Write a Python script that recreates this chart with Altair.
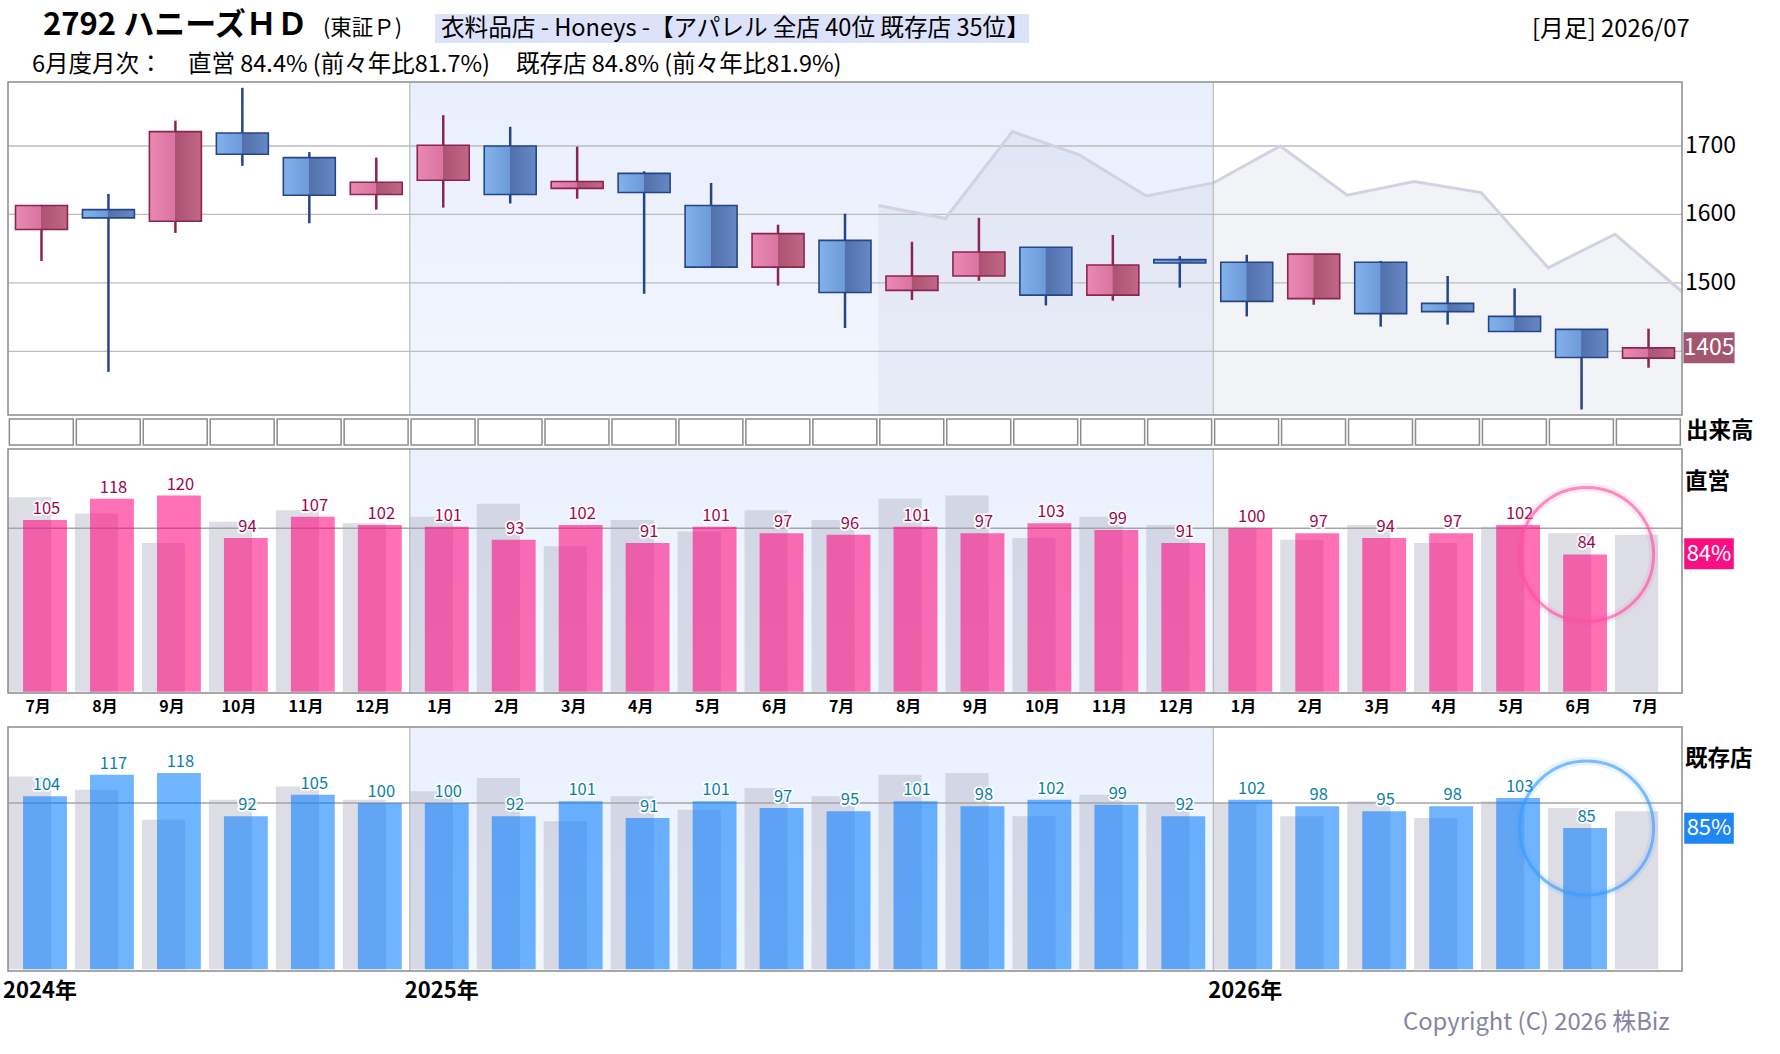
import altair as alt
import pandas as pd

FONT = "Noto Sans CJK JP"

# ---------------- data ----------------
months = ["7月", "8月", "9月", "10月", "11月", "12月",
          "1月", "2月", "3月", "4月", "5月", "6月", "7月", "8月", "9月", "10月", "11月", "12月",
          "1月", "2月", "3月", "4月", "5月", "6月", "7月"]
years = ["2024年", "2025年", "2026年"]
year_start = [0, 6, 18]

candle_open = [1578, 1607, 1590, 1719, 1683, 1629, 1650, 1700, 1638, 1660, 1613, 1523, 1562,
               1489, 1510, 1552, 1482, 1534, 1530, 1477, 1530, 1470, 1451, 1432, 1390]
candle_high = [1614, 1630, 1737, 1785, 1691, 1683, 1745, 1728, 1699, 1663, 1646, 1585, 1601,
               1560, 1595, 1552, 1570, 1539, 1541, 1542, 1532, 1510, 1492, 1432, 1433]
candle_low = [1532, 1370, 1573, 1671, 1587, 1607, 1610, 1616, 1623, 1484, 1523, 1496, 1434,
              1475, 1503, 1467, 1474, 1493, 1451, 1468, 1436, 1439, 1429, 1315, 1376]
candle_close = [1613, 1595, 1721, 1688, 1628, 1647, 1701, 1629, 1648, 1632, 1523, 1572, 1486,
                1510, 1545, 1482, 1526, 1529, 1473, 1542, 1455, 1458, 1429, 1391, 1405]

compare_start = 13
compare_line = [1613, 1594, 1721, 1687, 1627, 1646, 1700, 1628, 1648, 1632, 1522, 1571, 1487]

price_ticks = [1400, 1500, 1600, 1700]
price_labels = ["1500", "1600", "1700"]
last_price = 1405

direct = [105, 118, 120, 94, 107, 102, 101, 93, 102, 91, 101, 97, 96, 101, 97, 103, 99, 91,
          100, 97, 94, 97, 102, 84]
direct_prev = [119, 109, 91, 104, 111, 103, 107, 115, 89, 105, 98, 111, 105, 118, 120, 94, 107,
               102, 101, 93, 102, 91, 101, 97, 96]
existing = [104, 117, 118, 92, 105, 100, 100, 92, 101, 91, 101, 97, 95, 101, 98, 102, 99, 92,
            102, 98, 95, 98, 103, 85]
existing_prev = [116, 108, 90, 102, 110, 102, 107, 115, 89, 104, 96, 109, 104, 117, 118, 92, 105,
                 100, 100, 92, 101, 91, 101, 97, 95]
direct_latest = 84.4
existing_latest = 84.8

# ---------------- scales ----------------
N = len(months)
XS = alt.Scale(domain=[0, N], range=[8, 1682], nice=False, zero=False)
TOP = alt.Scale(domain=[1306.9, 1793.5], range=[415, 82], nice=False, zero=False)
MID = alt.Scale(domain=[-0.8, 148.5], range=[693, 449], nice=False, zero=False)
BOT = alt.Scale(domain=[-1.0, 145.7], range=[971, 727], nice=False, zero=False)


def X(f):
    return alt.X(f, type="quantitative", scale=XS, axis=None)


def Y(f, s):
    return alt.Y(f, type="quantitative", scale=s, axis=None)


def XD(v):
    return alt.XDatum(v, type="quantitative", scale=XS, axis=None)


def YD(v, s):
    return alt.YDatum(v, type="quantitative", scale=s, axis=None)


def hgrad(stops):
    return alt.Gradient(gradient="linear", x1=0, x2=1, y1=0, y2=0,
                        stops=[alt.GradientStop(offset=o, color=c) for o, c in stops])


def vgrad(stops):
    return alt.Gradient(gradient="linear", x1=0, x2=0, y1=0, y2=1,
                        stops=[alt.GradientStop(offset=o, color=c) for o, c in stops])


one = pd.DataFrame({"k": [0]})


def label(txt, x, y, size=22, weight="normal", color="black", align="left"):
    return alt.Chart(one).mark_text(text=txt, fontSize=size, fontWeight=weight, color=color,
                                    align=align, baseline="middle", font=FONT).encode(
        x=alt.value(x), y=alt.value(y))


layers = []

# ---------------- header ----------------
layers.append(alt.Chart(one).mark_rect(fill="#DCE2FA").encode(
    x=alt.value(435), x2=alt.value(1029), y=alt.value(14), y2=alt.value(43)))
layers.append(label("2792 ハニーズＨＤ", 43, 26, size=31, weight="bold"))
layers.append(label("(東証Ｐ)", 323, 29, size=21.5))
layers.append(label("衣料品店 - Honeys -【アパレル 全店 40位 既存店 35位】", 441, 29, size=23.6))
layers.append(label("[月足] 2026/07", 1532, 30, size=23.8))
layers.append(label("6月度月次：", 32, 65, size=23.5))
layers.append(label("直営 84.4% (前々年比81.7%)", 188, 65, size=23.5))
layers.append(label("既存店 84.8% (前々年比81.9%)", 516, 65, size=23.5))

# ---------------- top panel ----------------
yr_df = pd.DataFrame({"x0": [year_start[1]], "x1": [year_start[2]]})
bounds_df = pd.DataFrame({"b": year_start[1:]})

layers.append(alt.Chart(yr_df).mark_rect(
    fill=vgrad([(0, "#E9EFFC"), (1, "#F2F6FE")])).encode(
    x=X("x0"), x2="x1", y=YD(TOP.domain[0], TOP), y2=alt.Y2Datum(TOP.domain[1])))

cmp_df = pd.DataFrame({"b": [compare_start + k for k in range(len(compare_line))], "v": compare_line})
layers.append(alt.Chart(cmp_df).mark_area(color="#B8BCD2", opacity=0.18).encode(
    x=X("b"), y=Y("v", TOP), y2=alt.Y2Datum(TOP.domain[0])))

grid_df = pd.DataFrame({"g": price_ticks})
layers.append(alt.Chart(grid_df).mark_rule(color="#BDBDBD", strokeWidth=1.3).encode(
    y=Y("g", TOP), x=XD(0), x2=alt.X2Datum(N)))

layers.append(alt.Chart(cmp_df).mark_line(color="#D2D2E2", strokeWidth=3).encode(
    x=X("b"), y=Y("v", TOP)))

layers.append(alt.Chart(bounds_df).mark_rule(color="#BBBBBB", strokeWidth=1.2).encode(
    x=X("b"), y=YD(TOP.domain[0], TOP), y2=alt.Y2Datum(TOP.domain[1])))

cdf = pd.DataFrame({"i": list(range(N)), "o": candle_open, "h": candle_high,
                    "l": candle_low, "c": candle_close})
cdf["d"] = ["up" if c >= o else "down" for o, c in zip(candle_open, candle_close)]
cbase = alt.Chart(cdf).transform_calculate(
    xc="datum.i + 0.5", xl="datum.i + 0.112", xr="datum.i + 0.888")

UP_EDGE = "#8C2452"
DN_EDGE = "#24458A"
layers.append(cbase.mark_rule(strokeWidth=2.5).encode(
    x=X("xc:Q"), y=Y("l:Q", TOP), y2="h:Q",
    color=alt.Color("d:N", scale=alt.Scale(domain=["up", "down"], range=[UP_EDGE, DN_EDGE]),
                    legend=None)))
layers.append(cbase.transform_filter("datum.d == 'up'").mark_rect(
    fill=hgrad([(0, "#E98AB3"), (0.49, "#DA74A0"), (0.5, "#AC5272"), (1, "#C26886")]),
    stroke=UP_EDGE, strokeWidth=1.6).encode(
    x=X("xl:Q"), x2="xr:Q", y=Y("o:Q", TOP), y2="c:Q"))
layers.append(cbase.transform_filter("datum.d == 'down'").mark_rect(
    fill=hgrad([(0, "#82B2EA"), (0.49, "#6E9ADA"), (0.5, "#5170AC"), (1, "#6688C4")]),
    stroke=DN_EDGE, strokeWidth=1.6).encode(
    x=X("xl:Q"), x2="xr:Q", y=Y("o:Q", TOP), y2="c:Q"))

layers.append(alt.Chart(one).mark_rect(fillOpacity=0, stroke="#8C8C8C", strokeWidth=1.5).encode(
    x=XD(0), x2=alt.X2Datum(N), y=YD(TOP.domain[0], TOP), y2=alt.Y2Datum(TOP.domain[1])))

plab_df = pd.DataFrame({"g": [int(t) for t in price_labels], "t": price_labels})
layers.append(alt.Chart(plab_df).mark_text(align="left", baseline="middle", fontSize=23,
                                           font=FONT, color="black").encode(
    x=alt.value(1685), y=Y("g", TOP), text="t:N"))

last_df = pd.DataFrame({"v": [last_price], "t": [str(last_price)]})
layers.append(alt.Chart(last_df).mark_point(
    shape="M-1.65,-1H1.65V1H-1.65Z", filled=True, fill="#A3566F", opacity=1, size=961).encode(
    x=alt.value(1709), y=Y("v", TOP)))
layers.append(alt.Chart(last_df).mark_text(align="center", baseline="middle", fontSize=23,
                                           font=FONT, color="white").encode(
    x=alt.value(1709), y=Y("v", TOP), text="t:N"))

# ---------------- volume row ----------------
vol_df = pd.DataFrame({"i": list(range(N))})
layers.append(alt.Chart(vol_df).transform_calculate(
    xl="datum.i + 0.02", xr="datum.i + 0.975").mark_rect(
    fill="white", stroke="#8C8C8C", strokeWidth=1.5).encode(
    x=X("xl:Q"), x2="xr:Q", y=alt.value(419), y2=alt.value(445)))
layers.append(label("出来高", 1686, 431, size=22.5, weight="bold"))


# ---------------- bar panels ----------------
def bar_panel(S, cur, prev, bar_col, lab_col, ring_col, box_col, latest, title, title_y):
    out = []
    out.append(alt.Chart(yr_df).mark_rect(
        fill=vgrad([(0, "#EAF1FD"), (1, "#F2F7FE")])).encode(
        x=X("x0"), x2="x1", y=YD(S.domain[0], S), y2=alt.Y2Datum(S.domain[1])))
    out.append(alt.Chart(bounds_df).mark_rule(color="#BBBBBB", strokeWidth=1.2).encode(
        x=X("b"), y=YD(S.domain[0], S), y2=alt.Y2Datum(S.domain[1])))
    pdf = pd.DataFrame({"i": list(range(len(prev))), "v": prev})
    out.append(alt.Chart(pdf).transform_calculate(
        xl="datum.i + 0.0", xr="datum.i + 0.645").mark_rect(
        fill="#B4B4C8", opacity=0.45).encode(
        x=X("xl:Q"), x2="xr:Q", y=Y("v:Q", S), y2=alt.Y2Datum(0)))
    out.append(alt.Chart(one).mark_rule(color="#A6A6A6", strokeWidth=1.4).encode(
        y=YD(100, S), x=XD(0), x2=alt.X2Datum(N)))
    cdf2 = pd.DataFrame({"i": list(range(len(cur))), "v": cur, "t": [str(v) for v in cur]})
    cb = alt.Chart(cdf2).transform_calculate(
        xl="datum.i + 0.225", xr="datum.i + 0.88", xm="datum.i + 0.575")
    out.append(cb.mark_rect(fill=bar_col, opacity=0.56).encode(
        x=X("xl:Q"), x2="xr:Q", y=Y("v:Q", S), y2=alt.Y2Datum(0)))
    out.append(cb.mark_text(baseline="bottom", dy=-3, fontSize=16.5, font=FONT, color="white",
                            stroke="white", strokeWidth=3.5, strokeJoin="round").encode(
        x=X("xm:Q"), y=Y("v:Q", S), text="t:N"))
    out.append(cb.mark_text(baseline="bottom", dy=-3, fontSize=16.5, font=FONT,
                            color=lab_col).encode(
        x=X("xm:Q"), y=Y("v:Q", S), text="t:N"))
    ring = cb.transform_filter("datum.i == %d" % (len(cur) - 1))
    out.append(ring.mark_point(shape="circle", filled=False, size=17956, stroke=ring_col,
                               strokeWidth=9, strokeOpacity=0.15).encode(
        x=X("xm:Q"), y=Y("v:Q", S)))
    out.append(ring.mark_point(shape="circle", filled=False, size=17956, stroke=ring_col,
                               strokeWidth=3, strokeOpacity=0.9).encode(
        x=X("xm:Q"), y=Y("v:Q", S)))
    out.append(alt.Chart(one).mark_rect(fillOpacity=0, stroke="#8C8C8C", strokeWidth=1.5).encode(
        x=XD(0), x2=alt.X2Datum(N), y=YD(S.domain[0], S), y2=alt.Y2Datum(S.domain[1])))
    out.append(label(title, 1685, title_y, size=22.5, weight="bold"))
    ldf = pd.DataFrame({"v": [latest], "t": ["%d%%" % round(latest)]})
    out.append(alt.Chart(ldf).mark_point(
        shape="M-1.6,-1H1.6V1H-1.6Z", filled=True, fill=box_col, opacity=1, size=961).encode(
        x=alt.value(1709), y=Y("v", S)))
    out.append(alt.Chart(ldf).mark_text(align="center", baseline="middle", fontSize=22,
                                        font=FONT, color="white").encode(
        x=alt.value(1709), y=Y("v", S), text="t:N"))
    return out


layers += bar_panel(MID, direct, direct_prev, "#FF0079", "#A0064E", "#FF4FA3", "#FA0F82",
                    direct_latest, "直営", 482)
layers += bar_panel(BOT, existing, existing_prev, "#0079FF", "#0B7EA8", "#3A9BFF", "#1F86F5",
                    existing_latest, "既存店", 759)

# month labels
mdf = pd.DataFrame({"i": list(range(N)), "m": months})
layers.append(alt.Chart(mdf).transform_calculate(xm="datum.i + 0.45").mark_text(
    baseline="middle", align="center", fontSize=16, fontWeight="bold", font=FONT,
    color="black").encode(x=X("xm:Q"), y=alt.value(707), text="m:N"))

# year labels
ydf = pd.DataFrame({"b": year_start, "t": years})
layers.append(alt.Chart(ydf).mark_text(
    baseline="middle", align="left", dx=-5, fontSize=22, fontWeight="bold", font=FONT,
    color="black").encode(x=X("b:Q"), y=alt.value(991), text="t:N"))

layers.append(label("Copyright (C) 2026 株Biz", 1403, 1023, size=23.8, color="#8585A3"))

chart = alt.layer(*layers).resolve_scale(y="independent").properties(
    width=1780, height=1054, padding=0, autosize=alt.AutoSizeParams(type="none"),
    background="white"
).configure_view(stroke=None)

chart.save("out.html", embed_options={"renderer": "svg", "actions": False})
